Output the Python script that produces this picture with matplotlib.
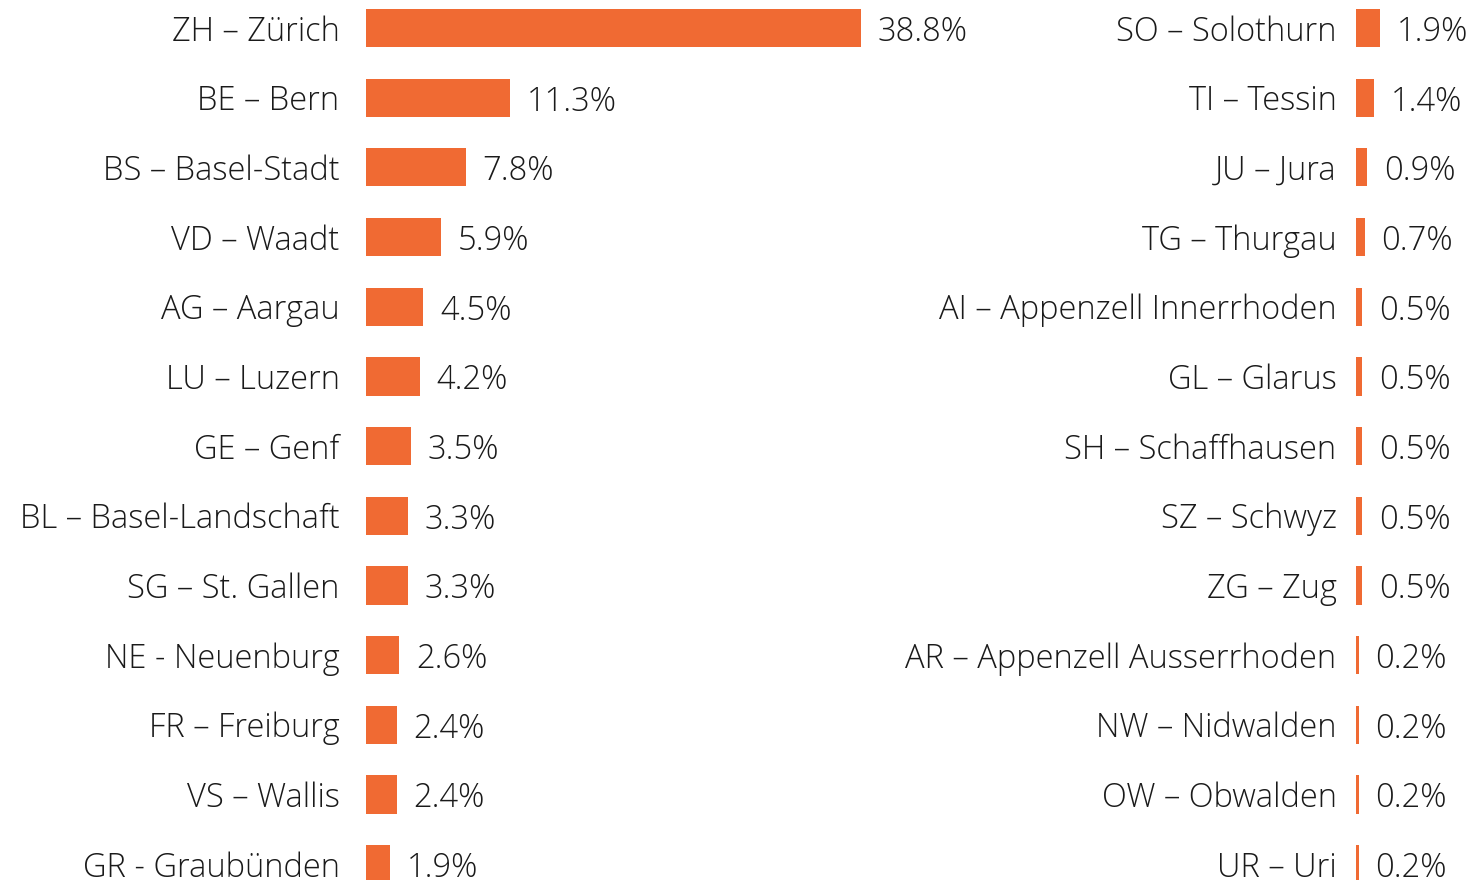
import matplotlib
matplotlib.use("Agg")
import matplotlib.pyplot as plt

left_labels = ["ZH – Zürich", "BE – Bern", "BS – Basel-Stadt", "VD – Waadt", "AG – Aargau",
               "LU – Luzern", "GE – Genf", "BL – Basel-Landschaft", "SG – St. Gallen",
               "NE - Neuenburg", "FR – Freiburg", "VS – Wallis", "GR - Graubünden"]
left_values = [38.8, 11.3, 7.8, 5.9, 4.5, 4.2, 3.5, 3.3, 3.3, 2.6, 2.4, 2.4, 1.9]

right_labels = ["SO – Solothurn", "TI – Tessin", "JU – Jura", "TG – Thurgau",
                "AI – Appenzell Innerrhoden", "GL – Glarus", "SH – Schaffhausen", "SZ – Schwyz",
                "ZG – Zug", "AR – Appenzell Ausserrhoden", "NW – Nidwalden", "OW – Obwalden",
                "UR – Uri"]
right_values = [1.9, 1.4, 0.9, 0.7, 0.5, 0.5, 0.5, 0.5, 0.5, 0.2, 0.2, 0.2, 0.2]

BAR_COLOR = "#F06A33"
TEXT_COLOR = "#1a1a1a"
FONT = "Open Sans"
FS = 23.5

W, H = 1472, 880
PX_PER_PCT = 12.76
ROW0, ROW_STEP = 28, 69.67

fig = plt.figure(figsize=(W / 100, H / 100), dpi=100)


def draw_panel(x0, width_px, labels, values, pad):
    ax = fig.add_axes([x0 / W, 0, width_px / W, 1])
    ys = list(range(len(values)))
    ax.barh(ys, values, height=0.55, color=BAR_COLOR)
    ax.set_xlim(0, width_px / PX_PER_PCT)
    ax.set_ylim((H - ROW0) / ROW_STEP, -ROW0 / ROW_STEP)
    ax.set_yticks(ys)
    ax.set_yticklabels(labels, fontsize=FS, family=FONT, fontweight="light", color=TEXT_COLOR)
    ax.tick_params(axis="y", length=0, pad=pad)
    ax.set_xticks([])
    for s in ax.spines.values():
        s.set_visible(False)
    # value labels right of each bar
    for y, v in zip(ys, values):
        ax.annotate(f"{v:.1f}%", (v, y), xytext=(12, -3), textcoords="offset points",
                    ha="left", va="center", fontsize=FS, family=FONT, fontweight="light",
                    color=TEXT_COLOR)
    return ax


draw_panel(366, 700, left_labels, left_values, 19)
draw_panel(1356, 116, right_labels, right_values, 14)

fig.savefig("out.png", dpi=100)
